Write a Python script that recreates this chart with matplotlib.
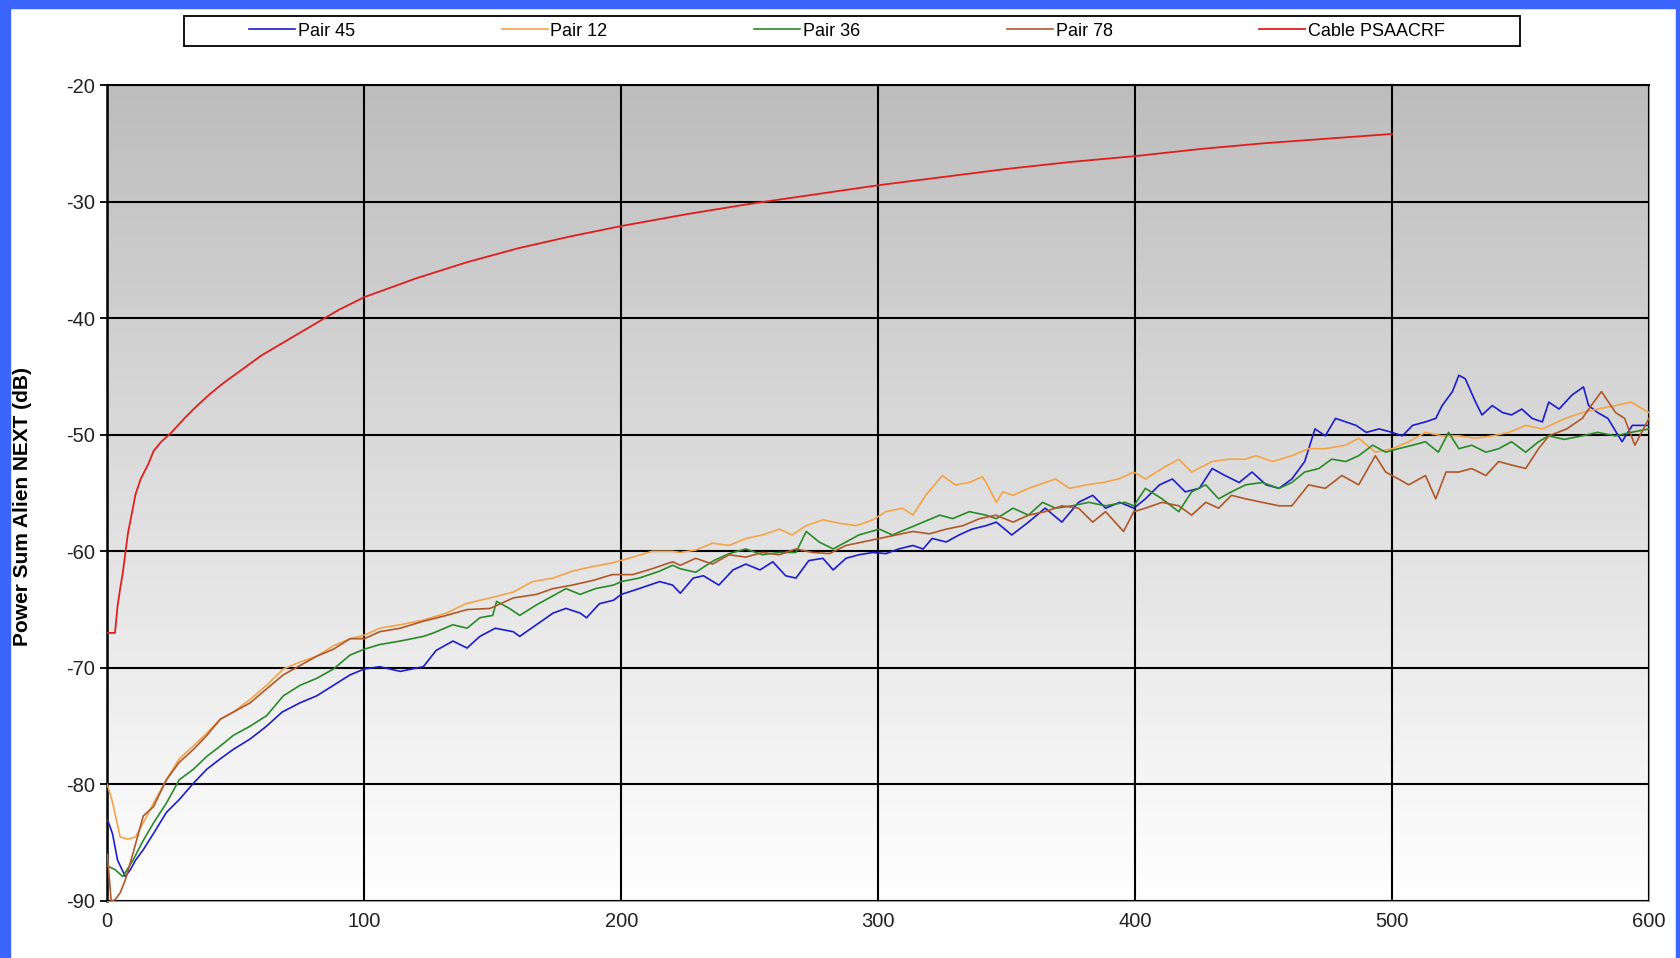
import matplotlib
matplotlib.use('Agg')
import matplotlib.pyplot as plt
from matplotlib.colors import LinearSegmentedColormap
from matplotlib.patches import Rectangle
import numpy as np

# frequency (MHz) / power sum alien NEXT (dB)
pair45_x = [0, 2, 4, 7, 9, 11, 14, 18, 23, 28, 33.5, 38.7, 44, 49, 55.6, 62, 68, 75, 81.5, 88, 94.5, 100,
            106, 114, 123, 128, 134.5, 140, 145, 151, 158, 160.5, 167, 173.5, 178.5, 184, 186.5, 191.5, 197,
            200, 207, 215, 220, 223, 228, 232, 238, 243.5, 248.5, 254, 259, 264, 268, 273, 278.5, 282.5,
            287.5, 292.5, 298, 303, 308, 313.5, 317.5, 321, 326.5, 331.5, 336.5, 342, 346, 352, 358.5, 365,
            371.5, 378, 383.5, 388.5, 394, 399.5, 404, 409.5, 414.5, 419.5, 425, 430, 435, 440.5, 445.5, 451,
            456, 461, 466, 470, 474, 478, 482, 486, 490, 495, 500, 504, 508, 513, 517, 519.5, 523.5, 526,
            528.5, 532.5, 535, 539, 543, 546.5, 550.5, 554.5, 558.5, 561, 565, 570, 574.5, 576.5, 580, 584,
            589.5, 593.5, 600]
pair45_y = [-83.0, -84.2, -86.5, -87.9, -87.3, -86.5, -85.6, -84.2, -82.4, -81.3, -79.9, -78.7, -77.8, -77.0,
            -76.1, -75.0, -73.8, -73.0, -72.4, -71.5, -70.6, -70.1, -69.9, -70.3, -69.9, -68.5, -67.7, -68.3,
            -67.3, -66.6, -66.9, -67.3, -66.3, -65.3, -64.9, -65.3, -65.7, -64.5, -64.2, -63.7, -63.2, -62.6,
            -62.9, -63.6, -62.3, -62.1, -62.9, -61.6, -61.1, -61.6, -60.9, -62.1, -62.3, -60.8, -60.6, -61.6,
            -60.6, -60.3, -60.1, -60.2, -59.8, -59.5, -59.8, -58.9, -59.2, -58.6, -58.1, -57.8, -57.5, -58.6,
            -57.5, -56.3, -57.5, -55.8, -55.2, -56.3, -55.8, -56.3, -55.5, -54.3, -53.8, -54.9, -54.6, -52.9,
            -53.5, -54.1, -53.2, -54.3, -54.6, -53.8, -52.3, -49.5, -50.1, -48.6, -48.9, -49.2, -49.8, -49.5,
            -49.8, -50.1, -49.2, -48.9, -48.6, -47.5, -46.3, -44.9, -45.2, -47.2, -48.3, -47.5, -48.1, -48.3,
            -47.8, -48.6, -48.9, -47.2, -47.8, -46.6, -45.9, -47.5, -48.1, -48.6, -50.6, -49.2, -49.2]

pair12_x = [0, 2, 5, 8, 11, 14, 18, 23, 28, 33.5, 38.7, 44, 49, 55.6, 62, 68.5, 75, 81.5, 88, 94.5, 100,
            106, 114, 123, 132, 139.5, 149, 158, 165.5, 173.5, 181, 189, 196.5, 204.5, 212, 220, 223, 229,
            235.5, 242, 248.5, 255, 261.5, 266.5, 272, 278.5, 285, 291.5, 298, 303, 309.5, 313.5, 318.5, 325,
            330, 335.5, 340.5, 342, 346, 348.5, 352.5, 358.5, 365, 369, 374.5, 381, 387.5, 393.5, 399.5, 404,
            410.5, 417, 422, 430, 436.5, 443, 447, 453.5, 461, 467.5, 474, 482, 487, 493.5, 500, 506.5, 513,
            519.5, 526, 532.5, 539, 545.5, 552, 558.5, 567.5, 574, 580, 587, 593, 600]
pair12_y = [-80.0, -81.5, -84.5, -84.7, -84.5, -83.3, -81.6, -79.6, -77.8, -76.7, -75.6, -74.4, -73.8, -72.7,
            -71.5, -70.1, -69.5, -69.0, -68.1, -67.5, -67.2, -66.6, -66.3, -65.9, -65.3, -64.5, -64.0, -63.5,
            -62.6, -62.3, -61.7, -61.3, -61.0, -60.5, -60.0, -60.0, -60.1, -59.9, -59.3, -59.5, -58.9, -58.6,
            -58.1, -58.6, -57.8, -57.3, -57.6, -57.8, -57.3, -56.6, -56.3, -56.9, -55.2, -53.5, -54.3, -54.1,
            -53.6, -54.1, -55.8, -54.9, -55.2, -54.6, -54.1, -53.8, -54.6, -54.3, -54.1, -53.8, -53.2, -53.8,
            -52.9, -52.1, -53.2, -52.3, -52.1, -52.1, -51.8, -52.3, -51.8, -51.2, -51.2, -50.9, -50.3, -51.5,
            -51.2, -50.6, -49.8, -50.1, -50.1, -50.3, -50.1, -49.8, -49.2, -49.5, -48.6, -48.1, -47.8, -47.5,
            -47.2, -48.1]

pair36_x = [0, 3, 6, 10, 14, 18, 23, 28, 33.5, 38.7, 44, 49, 55.6, 62, 68.5, 75, 81.5, 88, 94.5, 100, 106,
            114, 123, 127, 134.5, 140, 145, 150, 151.5, 156.5, 160.5, 167, 172, 178.5, 184, 190, 197, 200, 207,
            215, 220, 223, 229, 236, 242, 248.5, 255, 261.5, 268, 272, 277, 282.5, 287.5, 292.5, 300.5, 305.5,
            311, 317.5, 324, 329, 335.5, 342, 346, 352.5, 358.5, 364, 369, 375.5, 382, 388.5, 396, 399.5, 404,
            410.5, 417, 422, 427.5, 432.5, 437.5, 443, 449.5, 456, 461, 466, 471.5, 476.5, 482, 487, 492.5,
            497.5, 502.5, 508, 513, 518, 522, 526, 531, 536.5, 541.5, 546.5, 552, 557, 561, 567, 574, 580, 587,
            593, 600]
pair36_y = [-87.0, -87.3, -87.9, -86.5, -84.8, -83.3, -81.6, -79.6, -78.7, -77.6, -76.7, -75.8, -75.0, -74.1,
            -72.4, -71.5, -70.9, -70.1, -68.9, -68.4, -68.0, -67.7, -67.3, -67.0, -66.3, -66.6, -65.7, -65.5,
            -64.3, -64.9, -65.5, -64.6, -64.0, -63.2, -63.7, -63.2, -62.9, -62.6, -62.3, -61.7, -61.2, -61.5,
            -61.8, -60.8, -60.2, -59.8, -60.3, -60.1, -60.1, -58.3, -59.2, -59.8, -59.2, -58.6, -58.1, -58.6,
            -58.1, -57.5, -56.9, -57.2, -56.6, -56.9, -57.2, -56.3, -56.9, -55.8, -56.3, -56.1, -55.8, -56.1,
            -55.8, -56.1, -54.6, -55.5, -56.6, -54.9, -54.3, -55.5, -54.9, -54.3, -54.1, -54.6, -54.1, -53.2,
            -52.9, -52.1, -52.3, -51.8, -50.9, -51.5, -51.2, -50.9, -50.6, -51.5, -49.8, -51.2, -50.9, -51.5,
            -51.2, -50.6, -51.5, -50.6, -50.1, -50.4, -50.1, -49.8, -50.1, -49.8, -49.5]

pair78_x = [0, 1.5, 3, 5, 7, 10, 14, 18, 23, 28, 33.5, 38.7, 44, 49, 55.6, 62, 68.5, 75, 81.5, 88, 94.5, 100,
            106, 114, 123, 132, 140, 149, 158, 167, 173.5, 181, 189, 196.5, 204.5, 212, 220, 223, 229, 235.5,
            242, 248.5, 255, 261.5, 268, 274.5, 281, 287.5, 294, 300.5, 307, 313.5, 320, 326.5, 333, 339.5,
            345.8, 352.5, 358.5, 365, 371.5, 378, 383.5, 388.5, 395.5, 399.5, 404, 410.5, 417, 422, 427.5,
            432.5, 437.5, 443, 449.5, 456, 461, 467.5, 474, 480.5, 487, 493.5, 497.5, 502.5, 506.5, 513, 517,
            521, 526, 531, 536.5, 541.5, 546.5, 552, 557, 561, 568, 574, 577.5, 581.5, 587, 590.5, 594.5, 600]
pair78_y = [-86.0, -90.0, -89.9, -89.3, -88.2, -85.9, -82.7, -81.9, -79.6, -78.1, -77.0, -75.8, -74.4, -73.8,
            -73.0, -71.8, -70.6, -69.8, -69.0, -68.4, -67.5, -67.5, -66.9, -66.6, -66.0, -65.5, -65.0, -64.9,
            -64.0, -63.7, -63.2, -62.9, -62.5, -62.0, -62.0, -61.5, -60.9, -61.2, -60.6, -61.1, -60.3, -60.5,
            -60.1, -60.3, -59.8, -60.1, -60.2, -59.5, -59.2, -58.9, -58.6, -58.3, -58.5, -58.1, -57.8, -57.2,
            -56.9, -57.5, -56.9, -56.6, -56.1, -56.3, -57.5, -56.6, -58.3, -56.6, -56.3, -55.8, -56.1, -56.9,
            -55.8, -56.3, -55.2, -55.5, -55.8, -56.1, -56.1, -54.3, -54.6, -53.5, -54.3, -51.8, -53.2, -53.8,
            -54.3, -53.5, -55.5, -53.2, -53.2, -52.9, -53.5, -52.3, -52.6, -52.9, -51.2, -50.1, -49.5, -48.6,
            -47.5, -46.3, -48.1, -48.6, -50.9, -48.6]

cable_x = [0, 3, 4, 5, 6, 7, 8, 9.5, 11, 13, 16, 18, 21, 25, 30, 35, 40, 45, 50, 60, 70, 80, 90, 100, 120,
           140, 160, 180, 200, 225, 250, 275, 300, 325, 350, 375, 400, 425, 450, 475, 500]
cable_y = [-67.0, -67.0, -64.7, -63.2, -61.9, -60.2, -58.5, -56.8, -55.1, -53.8, -52.5, -51.4, -50.6, -49.8,
           -48.6, -47.5, -46.5, -45.6, -44.8, -43.2, -41.9, -40.6, -39.3, -38.2, -36.6, -35.2, -34.0, -33.0,
           -32.1, -31.1, -30.2, -29.4, -28.6, -27.9, -27.2, -26.6, -26.1, -25.5, -25.0, -24.6, -24.2]

labels = ['Pair 45', 'Pair 12', 'Pair 36', 'Pair 78', 'Cable PSAACRF']
colors = ['#1c1cd0', '#f4a447', '#2a8a2a', '#b0582a', '#e01e1e']

plt.rcParams['font.family'] = ['Liberation Sans', 'DejaVu Sans']
plt.rcParams['axes.unicode_minus'] = False

W, H = 1681, 958
fig = plt.figure(figsize=(W / 100, H / 100), dpi=100)
fig.patch.set_facecolor('white')

ax = fig.add_axes([107.3 / W, 1 - 901 / H, (1649 - 107.3) / W, (901 - 85) / H])

# grey-to-white gradient behind the plot
grad = np.linspace(0, 1, 256).reshape(-1, 1)
cmap = LinearSegmentedColormap.from_list('bg', ['#ffffff', '#bdbdbd'])
ax.imshow(grad, extent=[0, 600, -90, -20], origin='lower', aspect='auto', cmap=cmap, zorder=0)

series = [(pair45_x, pair45_y), (pair12_x, pair12_y), (pair36_x, pair36_y), (pair78_x, pair78_y)]
for (xs, ys), lab, col in zip(series, labels[:4], colors[:4]):
    ax.plot(xs, ys, color=col, lw=1.2, label=lab, zorder=3)
ax.plot(cable_x, cable_y, color=colors[4], lw=1.3, label=labels[4], zorder=3)

ax.set_xlim(0, 600)
ax.set_ylim(-90, -20)
ax.set_xticks(range(0, 601, 100))
ax.set_yticks(range(-90, -19, 10))
ax.grid(True, color='black', lw=1.5, zorder=1)
ax.set_axisbelow(False)
for ln in ax.get_xgridlines() + ax.get_ygridlines():
    ln.set_zorder(1)

ax.spines['left'].set_color('black')
ax.spines['left'].set_linewidth(1.8)
ax.spines['top'].set_color('black')
ax.spines['top'].set_linewidth(1.5)
for s in ['bottom', 'right']:
    ax.spines[s].set_color('#9a9a9a')
    ax.spines[s].set_linewidth(1.5)

ax.tick_params(axis='x', length=0, pad=8, labelsize=14.5, colors='#222222')
ax.tick_params(axis='y', length=5, width=1.3, direction='out', pad=3.5, labelsize=14.5,
               color='black', labelcolor='#222222')

ax.set_ylabel('Power Sum Alien NEXT (dB)', fontsize=15, fontweight='bold')
ax.yaxis.set_label_coords(-0.0488, 0.484)

# legend strip at the top
fig.patches.append(Rectangle((184 / W, 1 - 46 / H), (1520 - 184) / W, 30 / H, transform=fig.transFigure,
                             facecolor='white', edgecolor='black', lw=1.3, zorder=5))
handles, _ = ax.get_legend_handles_labels()
leg = fig.legend(handles, labels, ncol=5, mode='expand', frameon=False, fontsize=13,
                 bbox_to_anchor=(249 / W, 1 - 46 / H, (1445 - 249) / W, 30 / H), loc='center',
                 borderaxespad=0, borderpad=0, handlelength=2.55, handletextpad=0.15)
leg.set_zorder(6)

# blue frame round the picture (no bottom edge in the source)
blue = '#3c64ff'
fig.patches.append(Rectangle((0, 0), 10 / W, 1, transform=fig.transFigure, color=blue, zorder=10))
fig.patches.append(Rectangle((0, 1 - 8 / H), 1, 8 / H, transform=fig.transFigure, color=blue, zorder=10))
fig.patches.append(Rectangle((1 - 5 / W, 0), 5 / W, 1, transform=fig.transFigure, color=blue, zorder=10))

fig.savefig('out.png', dpi=100)
